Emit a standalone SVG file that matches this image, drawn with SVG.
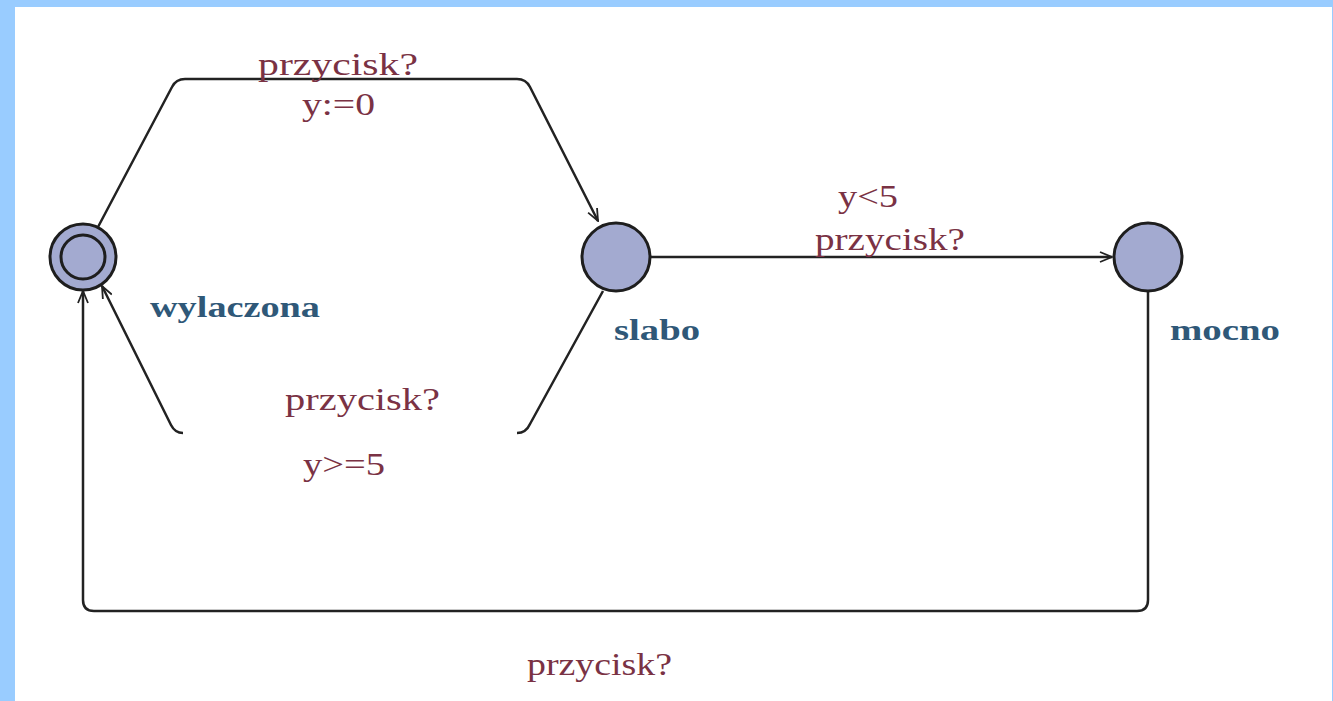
<svg xmlns="http://www.w3.org/2000/svg" width="1333" height="701" viewBox="0 0 1333 701">
<style>
.edge{fill:none;stroke:#222;stroke-width:2.5;stroke-linejoin:round}
.lbl{font-family:"Liberation Serif",serif;font-size:32px;fill:#7a3244}
.name{font-family:"Liberation Serif",serif;font-size:30px;font-weight:bold;fill:#2f5878}
.node{fill:#a3aad0;stroke:#1e1e1e;stroke-width:3}
</style>
<defs>
<marker id="arr" viewBox="0 0 14 12" refX="13" refY="6" markerWidth="14" markerHeight="12" markerUnits="userSpaceOnUse" orient="auto">
<path d="M1,1 L13,6 L1,11" fill="none" stroke="#222" stroke-width="1.8"/>
</marker>
</defs>
<rect x="0" y="0" width="1333" height="701" fill="#99ccff"/>
<rect x="15" y="7" width="1317" height="694" fill="#ffffff"/>
<g id="connectors">
<path class="edge" d="M98,227 L172,87 Q176,79 185,79 L517,79 Q526,79 530,87 L598,221" marker-end="url(#arr)"/>
<path class="edge" d="M603,291 L530,424 Q526,433 517,433"/>
<path class="edge" d="M183,433 Q175,433 171,425 L102,286" marker-end="url(#arr)"/>
<path class="edge" d="M651,257 L1112,257" marker-end="url(#arr)"/>
<path class="edge" d="M1148,292 L1148,600 Q1148,611 1137,611 L94,611 Q83,611 83,600 L83,291" marker-end="url(#arr)"/>
</g>
<g id="edge-labels">
<text class="lbl" x="258" y="75" textLength="160" lengthAdjust="spacingAndGlyphs">przycisk?</text>
<text class="lbl" x="302" y="115" textLength="73" lengthAdjust="spacingAndGlyphs">y:=0</text>
<text class="lbl" x="838" y="207" textLength="60" lengthAdjust="spacingAndGlyphs">y&lt;5</text>
<text class="lbl" x="815" y="250" textLength="150" lengthAdjust="spacingAndGlyphs">przycisk?</text>
<text class="lbl" x="285" y="410" textLength="155" lengthAdjust="spacingAndGlyphs">przycisk?</text>
<text class="lbl" x="303" y="475" textLength="82" lengthAdjust="spacingAndGlyphs">y&gt;=5</text>
<text class="lbl" x="527" y="675" textLength="145" lengthAdjust="spacingAndGlyphs">przycisk?</text>
</g>
<g id="node-wylaczona">
<circle class="node" cx="83" cy="257" r="33" fill="#b4b8cc"/>
<circle class="node" cx="83" cy="257" r="22"/>
<text class="name" x="150" y="317" textLength="170" lengthAdjust="spacingAndGlyphs">wylaczona</text>
</g>
<g id="node-slabo">
<circle class="node" cx="616" cy="257" r="34"/>
<text class="name" x="614" y="340" textLength="86" lengthAdjust="spacingAndGlyphs">slabo</text>
</g>
<g id="node-mocno">
<circle class="node" cx="1148" cy="257" r="34"/>
<text class="name" x="1170" y="340" textLength="110" lengthAdjust="spacingAndGlyphs">mocno</text>
</g>
</svg>
